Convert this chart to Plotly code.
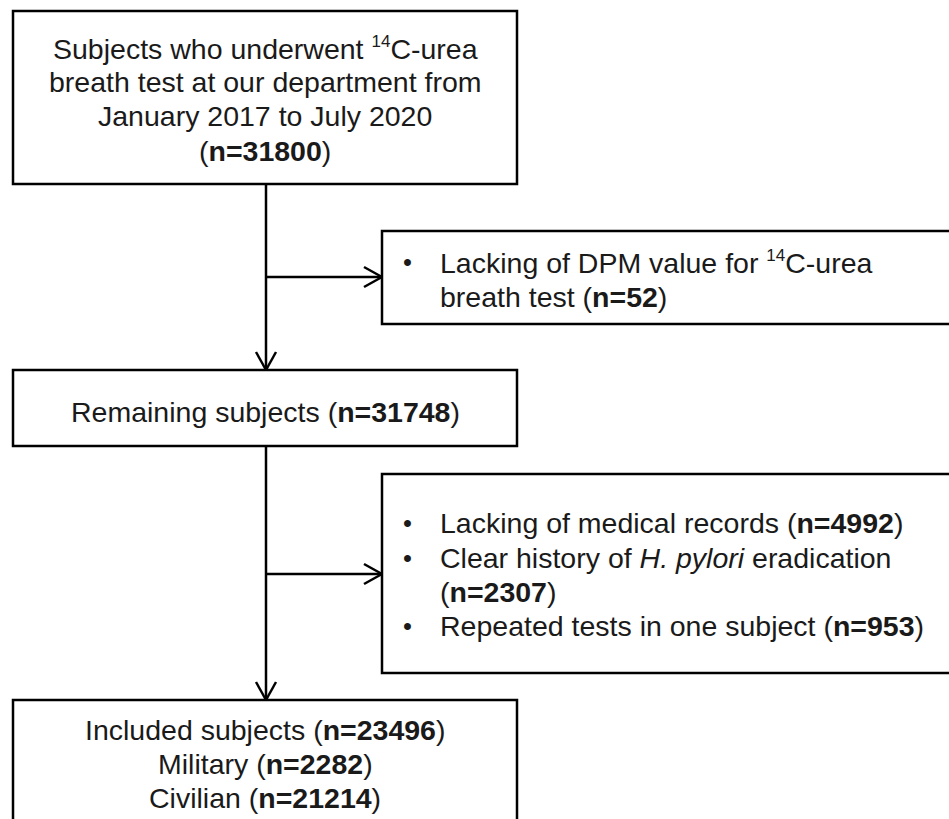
import plotly.graph_objects as go

# ---- content ----
SUP14 = "<sup><span style='font-size:17px'>14</span></sup>"
main_box_lines = [
    [f"Subjects who underwent {SUP14}C-urea",
     "breath test at our department from",
     "January 2017 to July 2020",
     "(<b>n=31800</b>)"],
    ["Remaining subjects (<b>n=31748</b>)"],
    ["Included subjects (<b>n=23496</b>)",
     "Military (<b>n=2282</b>)",
     "Civilian (<b>n=21214</b>)"],
]
excl_box_lines = [
    [("•", f"Lacking of DPM value for {SUP14}C-urea"),
     ("", "breath test (<b>n=52</b>)")],
    [("•", "Lacking of medical records (<b>n=4992</b>)"),
     ("•", "Clear history of <i>H. pylori</i> eradication"),
     ("", "(<b>n=2307</b>)"),
     ("•", "Repeated tests in one subject (<b>n=953</b>)")],
]

# ---- layout geometry (pixels) ----
W, H = 949, 819
main_boxes = [(13, 11, 517, 184), (13, 370, 517, 446), (13, 700, 517, 835)]
main_line_y = [[48, 82, 116, 151], [412], [730, 764, 798]]
excl_boxes = [(382, 231, 949, 324), (382, 474, 949, 673)]   # open on the right (cut at edge)
excl_line_y = [[262, 297], [523, 558, 592, 626]]
spine_x = 266
branch_y = [277, 574]
bullet_x, text_x = 407, 438
FONT = "Liberation Sans, Arial, sans-serif"
FS = 28.5
TXT = "#1a1a1a"
LW = 2.5

fig = go.Figure()
shapes = []
annotations = []

def seg(x0, y0, x1, y1):
    shapes.append(dict(type="line", x0=x0, y0=y0, x1=x1, y1=y1,
                       line=dict(color="black", width=LW), layer="above"))

def arrow_down(x, y_tip):
    seg(x - 10, y_tip - 18, x, y_tip)
    seg(x + 10, y_tip - 18, x, y_tip)

def arrow_right(x_tip, y):
    seg(x_tip - 18, y - 10, x_tip, y)
    seg(x_tip - 18, y + 10, x_tip, y)

for (x0, y0, x1, y1) in main_boxes:
    shapes.append(dict(type="rect", x0=x0, y0=y0, x1=x1, y1=y1,
                       line=dict(color="black", width=LW),
                       fillcolor="white", layer="below"))
for (x0, y0, x1, y1) in excl_boxes:
    shapes.append(dict(type="path",
                       path=f"M {x1+5},{y0} L {x0},{y0} L {x0},{y1} L {x1+5},{y1}",
                       line=dict(color="black", width=LW),
                       fillcolor="rgba(0,0,0,0)", layer="below"))

# vertical connectors
seg(spine_x, main_boxes[0][3], spine_x, main_boxes[1][1])
arrow_down(spine_x, main_boxes[1][1])
seg(spine_x, main_boxes[1][3], spine_x, main_boxes[2][1])
arrow_down(spine_x, main_boxes[2][1])
# horizontal branches
for by, eb in zip(branch_y, excl_boxes):
    seg(spine_x, by, eb[0], by)
    arrow_right(eb[0], by)

cx = (main_boxes[0][0] + main_boxes[0][2]) / 2
for lines, ys in zip(main_box_lines, main_line_y):
    for t, y in zip(lines, ys):
        annotations.append(dict(x=cx, y=y, text=t, showarrow=False,
                                xanchor="center", yanchor="middle",
                                font=dict(family=FONT, size=FS, color=TXT)))

for lines, ys in zip(excl_box_lines, excl_line_y):
    for (b, t), y in zip(lines, ys):
        if b:
            annotations.append(dict(x=bullet_x, y=y, text=b, showarrow=False,
                                    xanchor="center", yanchor="middle",
                                    font=dict(family=FONT, size=FS - 3, color=TXT)))
        annotations.append(dict(x=text_x, y=y, text=t, showarrow=False,
                                xanchor="left", yanchor="middle",
                                font=dict(family=FONT, size=FS, color=TXT)))

fig.update_layout(
    width=W, height=H,
    margin=dict(l=0, r=0, t=0, b=0),
    paper_bgcolor="white", plot_bgcolor="white",
    shapes=shapes, annotations=annotations,
    xaxis=dict(range=[0, W], visible=False, fixedrange=True),
    yaxis=dict(range=[H, 0], visible=False, fixedrange=True),
    showlegend=False,
)
fig.write_html("out.html", config={"displayModeBar": False},
               post_script="document.body.style.margin='0';"
                           "document.body.style.overflow='hidden';")
